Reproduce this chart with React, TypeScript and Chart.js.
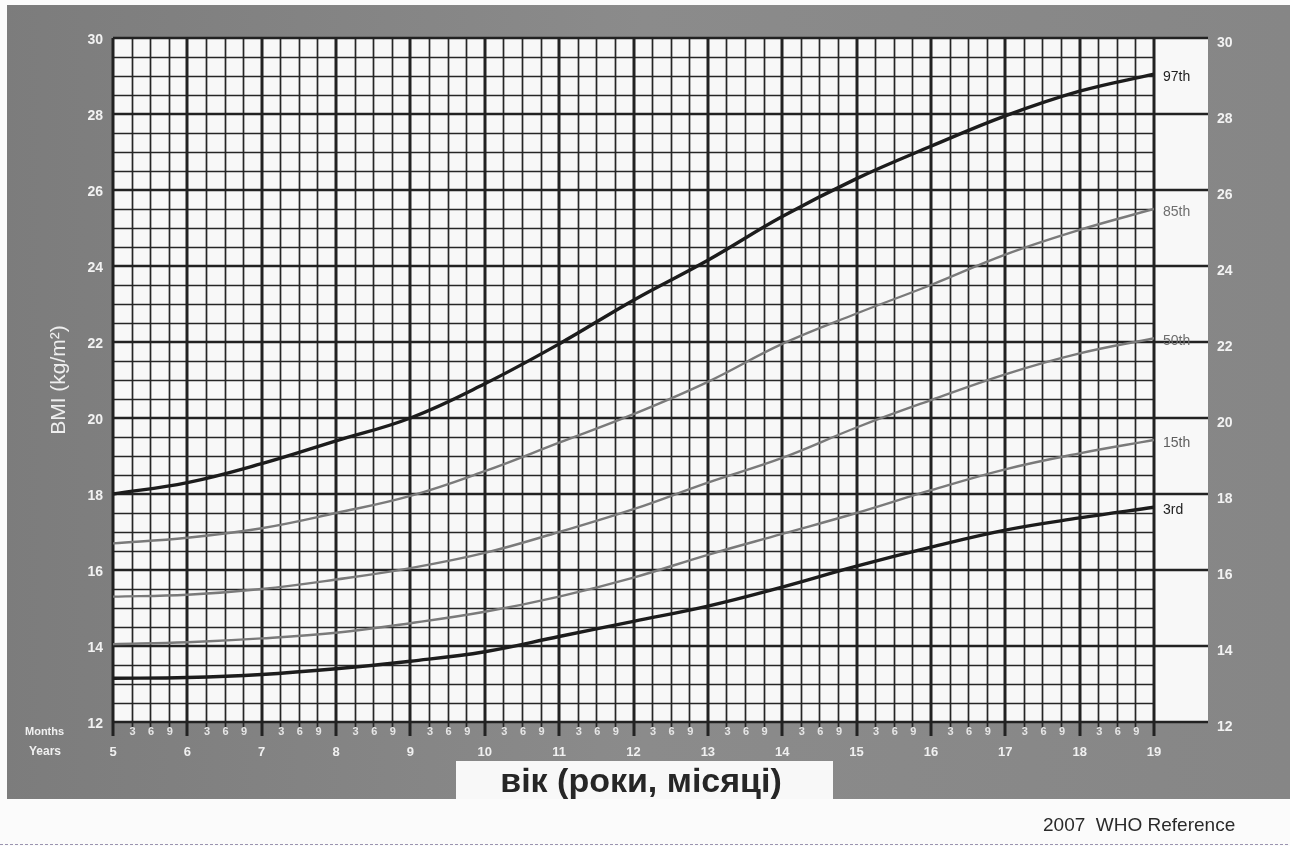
import React, { useEffect, useRef } from "react";
import { Chart, registerables } from "chart.js";

Chart.register(...registerables);

// ---- data (WHO 2007 BMI-for-age) ----
const ages = [5, 6, 7, 8, 9, 10, 11, 12, 13, 14, 15, 16, 17, 18, 19];
const p97 = [18.0, 18.3, 18.8, 19.4, 20.0, 20.9, 21.95, 23.1, 24.15, 25.3, 26.3, 27.15, 27.95, 28.6, 29.05];
const p85 = [16.7, 16.85, 17.1, 17.5, 17.95, 18.6, 19.35, 20.1, 20.95, 21.95, 22.75, 23.5, 24.3, 24.95, 25.5];
const p50 = [15.3, 15.35, 15.5, 15.75, 16.05, 16.45, 17.0, 17.6, 18.3, 18.95, 19.75, 20.47, 21.15, 21.7, 22.1];
const p15 = [14.05, 14.1, 14.2, 14.35, 14.6, 14.9, 15.3, 15.8, 16.4, 16.95, 17.5, 18.1, 18.65, 19.07, 19.42];
const p3 = [13.15, 13.17, 13.25, 13.4, 13.6, 13.85, 14.25, 14.65, 15.05, 15.55, 16.1, 16.6, 17.05, 17.37, 17.65];

const seriesNames = ["97th", "85th", "50th", "15th", "3rd"];
const seriesValues = [p97, p85, p50, p15, p3];

const yMajorTicks = [12, 14, 16, 18, 20, 22, 24, 26, 28, 30];
const yMinorTicks = [12.5, 13, 13.5, 14.5, 15, 15.5, 16.5, 17, 17.5, 18.5, 19, 19.5, 20.5, 21, 21.5, 22.5, 23, 23.5, 24.5, 25, 25.5, 26.5, 27, 27.5, 28.5, 29, 29.5];
const yearTicks = [5, 6, 7, 8, 9, 10, 11, 12, 13, 14, 15, 16, 17, 18, 19];
const monthTicks = [3, 6, 9];

const xTitle = "вік (роки, місяці)";
const yTitle = "BMI (kg/m²)";
const footer = "2007  WHO Reference";

const FONT = '"Liberation Sans", Arial, Helvetica, sans-serif';

const seriesStyle = [
  { color: "#1c1c1c", width: 3.4, label: "#1e1e1e" },
  { color: "#7a7a7a", width: 2.4, label: "#6e6e6e" },
  { color: "#7a7a7a", width: 2.4, label: "#6e6e6e" },
  { color: "#7a7a7a", width: 2.4, label: "#5e5e5e" },
  { color: "#1c1c1c", width: 3.4, label: "#1e1e1e" },
];

const W = 1290;
const H = 846;

const framePlugin = {
  id: "frame",
  beforeDraw(chart: any) {
    const { ctx } = chart;
    const x = chart.scales.x;
    const y = chart.scales.y;
    const L = x.getPixelForValue(yearTicks[0]);
    const R = x.getPixelForValue(yearTicks[yearTicks.length - 1]);
    const T = y.getPixelForValue(yMajorTicks[yMajorTicks.length - 1]);
    const B = y.getPixelForValue(yMajorTicks[0]);
    const colR = R + 54;
    ctx.save();
    // page
    ctx.fillStyle = "#fbfbfb";
    ctx.fillRect(0, 0, W, H);
    // grey halftone panel
    const g = ctx.createLinearGradient(0, 0, W, 0);
    g.addColorStop(0, "#7c7c7c");
    g.addColorStop(0.5, "#8b8b8b");
    g.addColorStop(1, "#868686");
    ctx.fillStyle = g;
    ctx.fillRect(7, 5, W - 7, 794);
    // white plot area + right label column
    ctx.fillStyle = "#f8f8f8";
    ctx.fillRect(L, T, colR - L, B - T);

    ctx.strokeStyle = "#262626";
    // minor horizontal lines
    ctx.lineWidth = 1.7;
    for (const v of yMinorTicks) {
      const py = Math.round(y.getPixelForValue(v)) + 0.5;
      ctx.beginPath();
      ctx.moveTo(L, py);
      ctx.lineTo(R, py);
      ctx.stroke();
    }
    // minor vertical lines (quarters)
    for (let i = 0; i < yearTicks.length - 1; i++) {
      for (const m of monthTicks) {
        const px = Math.round(x.getPixelForValue(yearTicks[i] + m / 12)) + 0.5;
        ctx.beginPath();
        ctx.moveTo(px, T);
        ctx.lineTo(px, B + 6);
        ctx.stroke();
      }
    }
    // major horizontal
    ctx.lineWidth = 2.4;
    ctx.strokeStyle = "#222";
    for (const v of yMajorTicks) {
      const py = Math.round(y.getPixelForValue(v));
      ctx.beginPath();
      ctx.moveTo(L, py);
      ctx.lineTo(colR, py);
      ctx.stroke();
    }
    // major vertical (years)
    ctx.lineWidth = 3;
    for (const a of yearTicks) {
      const px = Math.round(x.getPixelForValue(a));
      ctx.beginPath();
      ctx.moveTo(px, T);
      ctx.lineTo(px, B + 14);
      ctx.stroke();
    }
    ctx.restore();
  },
  afterDraw(chart: any) {
    const { ctx } = chart;
    const x = chart.scales.x;
    const y = chart.scales.y;
    const L = x.getPixelForValue(yearTicks[0]);
    const R = x.getPixelForValue(yearTicks[yearTicks.length - 1]);
    const B = y.getPixelForValue(yMajorTicks[0]);
    ctx.save();
    // y tick labels left & right
    ctx.fillStyle = "#f2f2f2";
    ctx.font = `bold 14px ${FONT}`;
    ctx.textBaseline = "middle";
    for (const v of yMajorTicks) {
      const py = y.getPixelForValue(v);
      ctx.textAlign = "right";
      ctx.fillText(String(v), L - 10, py + 2);
      ctx.textAlign = "left";
      ctx.fillText(String(v), R + 63, py + 5);
    }
    // month labels
    ctx.font = `bold 11px ${FONT}`;
    ctx.textAlign = "center";
    ctx.fillStyle = "#e6e6e6";
    for (let i = 0; i < yearTicks.length - 1; i++) {
      for (const m of monthTicks) {
        const px = x.getPixelForValue(yearTicks[i] + m / 12);
        ctx.fillText(String(m), px + 1, B + 10);
      }
    }
    // year labels
    ctx.fillStyle = "#f0f0f0";
    ctx.font = `bold 13px ${FONT}`;
    for (const a of yearTicks) {
      ctx.fillText(String(a), x.getPixelForValue(a), B + 30);
    }
    ctx.textAlign = "left";
    ctx.font = `bold 11px ${FONT}`;
    ctx.fillText("Months", 25, B + 10);
    ctx.font = `bold 12px ${FONT}`;
    ctx.fillText("Years", 29, B + 30);

    // y title
    ctx.save();
    ctx.translate(65, 380);
    ctx.rotate(-Math.PI / 2);
    ctx.textAlign = "center";
    ctx.textBaseline = "alphabetic";
    ctx.font = `21px ${FONT}`;
    ctx.fillStyle = "#eeeeee";
    ctx.fillText(yTitle, 0, 0);
    ctx.restore();

    // percentile labels
    ctx.font = `14px ${FONT}`;
    ctx.textAlign = "left";
    seriesNames.forEach((name, i) => {
      const vals = seriesValues[i];
      const py = y.getPixelForValue(vals[vals.length - 1]);
      ctx.fillStyle = seriesStyle[i].label;
      ctx.fillText(name, R + 9, py + 3);
    });

    // x title box
    ctx.fillStyle = "#f8f8f8";
    ctx.fillRect(456, 761, 377, 38);
    ctx.fillStyle = "#262626";
    ctx.font = `bold 34px ${FONT}`;
    ctx.textAlign = "center";
    ctx.fillText(xTitle, 641, 783);

    // footer
    ctx.font = `19px ${FONT}`;
    ctx.textAlign = "left";
    ctx.fillStyle = "#2a2a2a";
    ctx.fillText(footer, 1043, 826);

    // bottom dashed line
    ctx.strokeStyle = "#9a94b0";
    ctx.lineWidth = 1.2;
    ctx.setLineDash([3, 2]);
    ctx.beginPath();
    ctx.moveTo(0, 844.5);
    ctx.lineTo(W, 844.5);
    ctx.stroke();
    ctx.restore();
  },
};

export default function App() {
  const ref = useRef<HTMLCanvasElement | null>(null);
  useEffect(() => {
    if (!ref.current) return;
    const chart = new Chart(ref.current, {
      type: "line",
      data: {
        datasets: seriesNames.map((name, i) => ({
          label: name,
          data: ages.map((a, j) => ({ x: a, y: seriesValues[i][j] })),
          borderColor: seriesStyle[i].color,
          borderWidth: seriesStyle[i].width,
          pointRadius: 0,
          fill: false,
          tension: 0.4,
        })),
      },
      options: {
        animation: false,
        responsive: false,
        maintainAspectRatio: false,
        devicePixelRatio: 1,
        layout: { padding: { left: 113, right: W - 1154, top: 38, bottom: H - 722 } },
        plugins: { legend: { display: false }, tooltip: { enabled: false } },
        events: [],
        scales: {
          x: { type: "linear", min: 5, max: 19, display: false },
          y: { type: "linear", min: 12, max: 30, display: false },
        },
      },
      plugins: [framePlugin],
    });
    return () => chart.destroy();
  }, []);
  return (
    <div style={{ position: "fixed", left: 0, top: 0, width: W, height: H }}>
      <canvas ref={ref} width={W} height={H} style={{ display: "block", width: W, height: H }} />
    </div>
  );
}
